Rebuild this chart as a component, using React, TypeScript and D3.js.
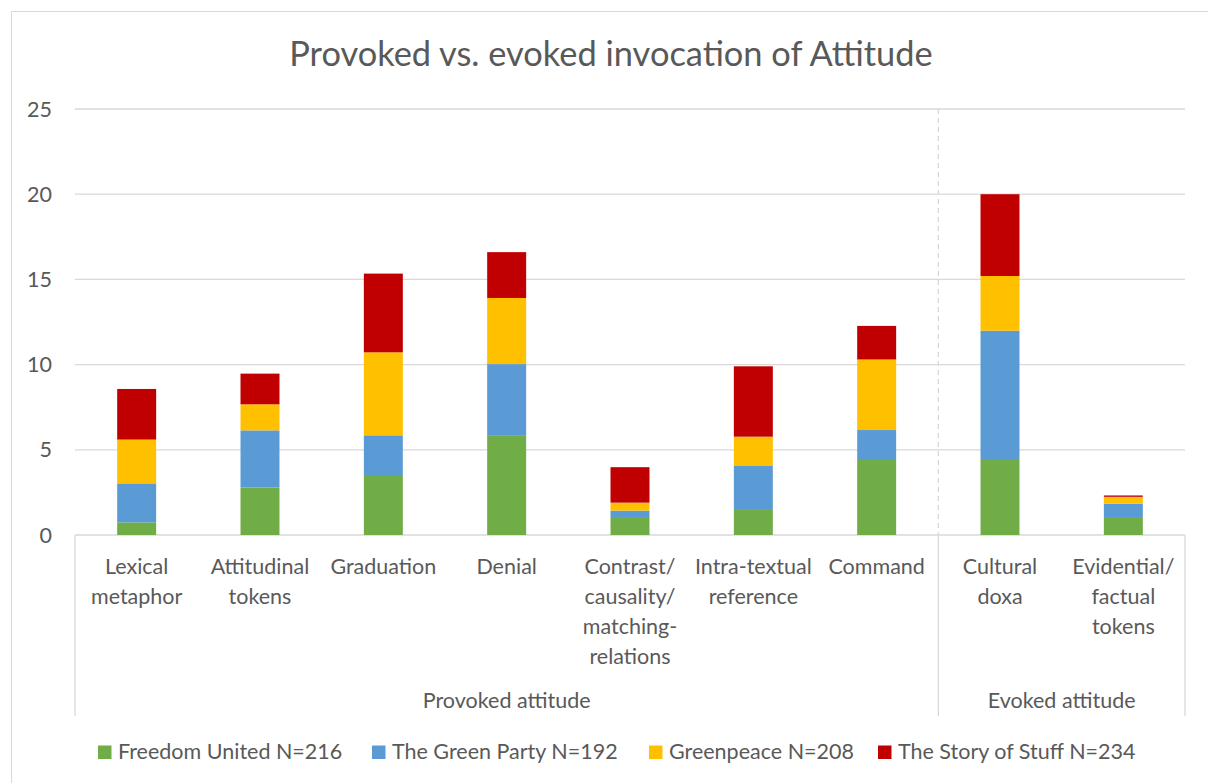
import React from "react";
import * as d3 from "d3";

const categories = [
  ["Lexical", "metaphor"],
  ["Attitudinal", "tokens"],
  ["Graduation"],
  ["Denial"],
  ["Contrast/", "causality/", "matching-", "relations"],
  ["Intra-textual", "reference"],
  ["Command"],
  ["Cultural", "doxa"],
  ["Evidential/", "factual", "tokens"],
];

const groups = [
  { label: "Provoked attitude", from: 0, to: 6 },
  { label: "Evoked attitude", from: 7, to: 8 },
];

const seriesNames = [
  "Freedom United N=216",
  "The Green Party N=192",
  "Greenpeace N=208",
  "The Story of Stuff N=234",
];

const freedomUnited = [0.74, 2.78, 3.52, 5.86, 1.0, 1.47, 4.4, 4.4, 1.0];
const greenParty = [2.29, 3.36, 2.33, 4.17, 0.43, 2.58, 1.76, 7.59, 0.84];
const greenpeace = [2.57, 1.53, 4.87, 3.88, 0.47, 1.72, 4.14, 3.21, 0.4];
const storyOfStuff = [2.97, 1.8, 4.62, 2.69, 2.08, 4.13, 1.97, 4.8, 0.08];

const yTicks = [0, 5, 10, 15, 20, 25];
const colors = ["#70ad47", "#5b9bd5", "#ffc000", "#c00000"];

const W = 1208;
const H = 783;
const FONT = "Lato, 'Open Sans', sans-serif";
const TEXT = "#595959";
const GRID = "#d9d9d9";

export default function App() {
  const x = d3
    .scaleBand<number>()
    .domain(categories.map((_, i) => i))
    .range([75, 1185])
    .padding(0);
  const y = d3.scaleLinear().domain([0, 25]).range([535, 109]);
  const barW = x.bandwidth() * 0.316;

  const rows = categories.map((_, i) => ({
    i,
    s0: freedomUnited[i],
    s1: greenParty[i],
    s2: greenpeace[i],
    s3: storyOfStuff[i],
  }));
  const stacked = d3.stack<any>().keys(["s0", "s1", "s2", "s3"])(rows);

  const sepX = x(7)!;
  const base = y(0);
  const axisBottom = 716;

  const legendItems = [
    { sw: 98, tx: 118 },
    { sw: 372, tx: 392 },
    { sw: 649, tx: 669 },
    { sw: 878, tx: 898 },
  ];

  return (
    <svg
      width={W}
      height={H}
      style={{ position: "fixed", left: 0, top: 0, background: "#fff" }}
      fontFamily={FONT}
    >
      <rect x={0} y={0} width={W} height={H} fill="#fff" />
      <rect x={11.5} y={11.5} width={W + 10} height={H + 10} fill="none" stroke={GRID} strokeWidth={1} />

      <text x={611} y={66} textAnchor="middle" fontSize={34.4} fill={TEXT}>
        Provoked vs. evoked invocation of Attitude
      </text>

      {yTicks.map((t) => (
        <g key={t}>
          <line x1={75} x2={1185} y1={y(t)} y2={y(t)} stroke={GRID} strokeWidth={1.3} />
          <text x={52} y={y(t) + 7.5} textAnchor="end" fontSize={21.5} fill={TEXT}>
            {t}
          </text>
        </g>
      ))}

      <line x1={sepX} x2={sepX} y1={y(25)} y2={base} stroke={GRID} strokeWidth={1.3} strokeDasharray="5,4" />
      <line x1={75} x2={75} y1={base} y2={axisBottom} stroke={GRID} strokeWidth={1.3} />
      <line x1={sepX} x2={sepX} y1={base} y2={axisBottom} stroke={GRID} strokeWidth={1.3} />
      <line x1={1185} x2={1185} y1={base} y2={axisBottom} stroke={GRID} strokeWidth={1.3} />

      {stacked.map((layer, k) => (
        <g key={k} fill={colors[k]}>
          {layer.map((d: any, i: number) => (
            <rect
              key={i}
              x={x(i)! + (x.bandwidth() - barW) / 2}
              y={y(d[1])}
              width={barW}
              height={Math.max(0, y(d[0]) - y(d[1]))}
            />
          ))}
        </g>
      ))}

      {categories.map((lines, i) => (
        <text key={i} textAnchor="middle" fontSize={21.5} fill={TEXT}>
          {lines.map((ln, j) => (
            <tspan key={j} x={x(i)! + x.bandwidth() / 2} y={573.5 + j * 30}>
              {ln}
            </tspan>
          ))}
        </text>
      ))}

      {groups.map((g) => {
        const x0 = x(g.from)!;
        const x1 = x(g.to)! + x.bandwidth();
        return (
          <text key={g.label} x={(x0 + x1) / 2} y={707.5} textAnchor="middle" fontSize={21.5} fill={TEXT}>
            {g.label}
          </text>
        );
      })}

      {seriesNames.map((name, k) => (
        <g key={name}>
          <rect x={legendItems[k].sw} y={745.5} width={13.5} height={13.5} fill={colors[k]} />
          <text x={legendItems[k].tx} y={759} fontSize={21.5} fill={TEXT}>
            {name}
          </text>
        </g>
      ))}
    </svg>
  );
}
